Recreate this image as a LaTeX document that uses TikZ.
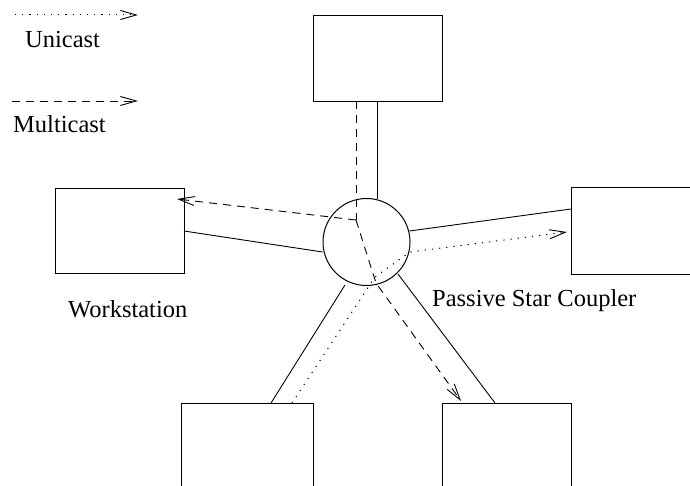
\documentclass[tikz,border=0pt]{standalone}
\usepackage{fontspec}
\setmainfont{Liberation Serif}
\usetikzlibrary{arrows.meta}
\tikzset{
  box/.style={draw, line width=1pt, rectangle, minimum width=#1, inner sep=0pt},
  wire/.style={line width=0.9pt},
  multi/.style={line width=0.9pt, dash pattern=on 8pt off 6pt},
  uni/.style={line width=1pt, dash pattern=on 1.2pt off 6pt},
  tip/.style={-{Straight Barb[length=16pt,width=9pt,line width=0.9pt]}},
  lbl/.style={font=\fontsize{24.5}{29}\selectfont, inner sep=0pt, anchor=base west}
}
\begin{document}
\begin{tikzpicture}[x=1pt,y=-1pt]
\useasboundingbox (0,0) rectangle (690,486);
\clip (0,0) rectangle (690,486);
% boxes
\node[box=129pt, minimum height=86pt, anchor=north west] (top) at (313,15) {};
\node[box=129pt, minimum height=85pt, anchor=north west] (left) at (55,188) {};
\node[box=129pt, minimum height=87pt, anchor=north west] (right) at (571,187) {};
\node[box=132pt, minimum height=120pt, anchor=north west] (bl) at (181,403) {};
\node[box=129pt, minimum height=120pt, anchor=north west] (br) at (442,403) {};
% star coupler
\node[draw, circle, line width=1pt, minimum size=87pt, inner sep=0pt] (star) at (366.5,242) {};
% connection points
\coordinate (tS) at (377,101);  \coordinate (cT) at (377,199.5);
\coordinate (lS) at (184,231);  \coordinate (cL) at (322.5,252);
\coordinate (rS) at (571,209);  \coordinate (cR) at (409.5,231);
\coordinate (blS) at (271,403); \coordinate (cBL) at (345,285);
\coordinate (brS) at (495,403); \coordinate (cBR) at (398,274);
% solid links
\draw[wire] (tS) -- (cT);
\draw[wire] (lS) -- (cL);
\draw[wire] (rS) -- (cR);
\draw[wire] (blS) -- (cBL);
\draw[wire] (brS) -- (cBR);
% multicast
\coordinate (mTop) at (356,101);
\coordinate (mC) at (356,220);
\coordinate (mB) at (376,283);
\coordinate (mL) at (177,199);
\coordinate (mR) at (461,401);
\draw[multi] (mTop) -- (mC);
\draw[multi, tip] (mC) -- (mL);
\draw[multi, tip] (mC) -- (mB) -- (mR);
% unicast
\coordinate (u0) at (292,403);
\coordinate (u1) at (375,277);
\coordinate (u2) at (410,252);
\coordinate (u3) at (567,232);
\draw[uni, tip] (u0) -- (u1) -- (u2) -- (u3);
% legend
\coordinate (lu0) at (15,15);  \coordinate (lu1) at (138,15);
\coordinate (lm0) at (12,101); \coordinate (lm1) at (138,101);
\draw[uni, tip] (lu0) -- (lu1);
\draw[multi, tip] (lm0) -- (lm1);
\node[lbl] (tu) at (25,48) {Unicast};
\node[lbl] (tm) at (13,133) {Multicast};
% labels
\node[lbl] (tw) at (68,317) {Workstation};
\node[lbl] (tp) at (432,306) {Passive Star Coupler};
\end{tikzpicture}
\end{document}
